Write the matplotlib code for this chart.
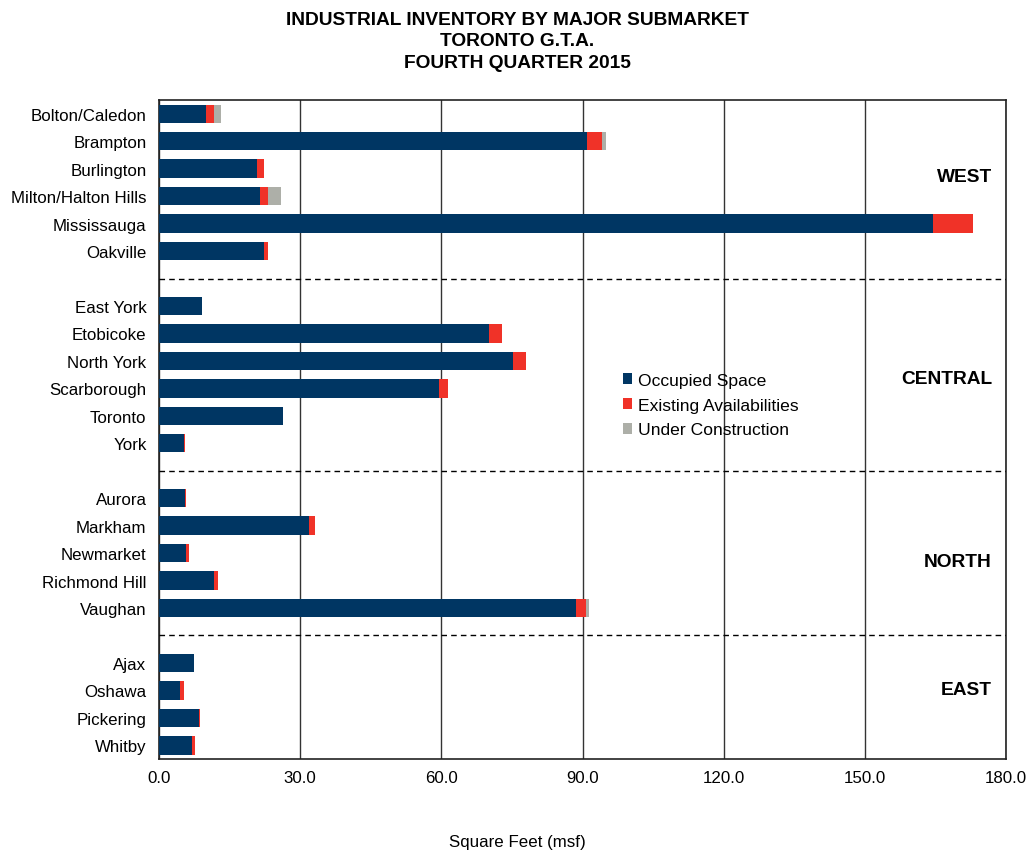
import numpy as np
import matplotlib.pyplot as plt

plt.rcParams['font.family'] = ['Liberation Sans', 'DejaVu Sans']

# submarkets, top to bottom (None = gap row between regions)
markets = ['Bolton/Caledon', 'Brampton', 'Burlington', 'Milton/Halton Hills', 'Mississauga', 'Oakville',
           None,
           'East York', 'Etobicoke', 'North York', 'Scarborough', 'Toronto', 'York',
           None,
           'Aurora', 'Markham', 'Newmarket', 'Richmond Hill', 'Vaughan',
           None,
           'Ajax', 'Oshawa', 'Pickering', 'Whitby']

occupied = [10.0, 91.0, 20.9, 21.4, 164.5, 22.3,
            0,
            9.1, 70.2, 75.3, 59.6, 26.3, 5.4,
            0,
            5.5, 31.8, 5.8, 11.7, 88.7,
            0,
            7.4, 4.5, 8.4, 7.1]
available = [1.6, 3.2, 1.4, 1.8, 8.5, 0.9,
             0,
             0.0, 2.7, 2.7, 1.9, 0.1, 0.2,
             0,
             0.2, 1.3, 0.6, 0.9, 2.1,
             0,
             0.0, 0.8, 0.4, 0.6]
construction = [1.5, 0.7, 0.0, 2.8, 0.0, 0.0,
                0,
                0.0, 0.0, 0.0, 0.0, 0.0, 0.0,
                0,
                0.0, 0.0, 0.0, 0.0, 0.6,
                0,
                0.0, 0.0, 0.0, 0.0]

regions = ['WEST', 'CENTRAL', 'NORTH', 'EAST']
region_pos = [2.3, 9.64, 16.32, 20.96]

navy = '#003663'
red = '#F03228'
grey = '#ADAFA8'

fig = plt.figure(figsize=(10.34, 8.54), dpi=100)
ax = fig.add_axes([0.1538, 0.1100, 0.8192, 0.7717])

y = np.arange(len(markets))
occ = np.array(occupied)
av = np.array(available)
uc = np.array(construction)
h = 0.67

ax.barh(y, occ, height=h, color=navy, label='Occupied Space', zorder=3)
ax.barh(y, av, left=occ, height=h, color=red, label='Existing Availabilities', zorder=3)
ax.barh(y, uc, left=occ + av, height=h, color=grey, label='Under Construction', zorder=3)

ax.set_xlim(0, 180)
ax.set_ylim(len(markets) - 0.5, -0.5)
ax.set_xticks(np.arange(0, 181, 30))
ax.set_xticklabels(['%.1f' % v for v in np.arange(0, 181, 30)], fontsize=12.2)
ax.set_yticks([i for i, m in enumerate(markets) if m])
ax.set_yticklabels([m for m in markets if m], fontsize=12.2)
ax.tick_params(length=0, pad=8)
ax.tick_params(axis='y', pad=9)
ax.grid(axis='x', color='#333333', linewidth=1, zorder=0)
for s in ax.spines.values():
    s.set_color('#222222')
    s.set_linewidth(1.2)

for i, m in enumerate(markets):
    if m is None:
        ax.axhline(i, color='black', linestyle=(0, (4, 3)), linewidth=1, zorder=4)

for r, p in zip(regions, region_pos):
    ax.text(177, p, r, ha='right', va='center', fontsize=13.8, fontweight='bold')

fig.text(0.5, 1 - 843 / 854, 'Square Feet (msf)', ha='center', va='center', fontsize=12.2)

ax.legend(loc='center left', bbox_to_anchor=(0.529, 0.537), frameon=False, fontsize=12.6,
          handlelength=0.55, handleheight=0.55, handletextpad=0.3, labelspacing=0.56)

fig.text(0.5, 1 - 42 / 854, 'INDUSTRIAL INVENTORY BY MAJOR SUBMARKET\nTORONTO G.T.A.\nFOURTH QUARTER 2015',
         ha='center', va='center', fontsize=13.8, fontweight='bold', linespacing=1.33)

fig.savefig('out.png', dpi=100)
